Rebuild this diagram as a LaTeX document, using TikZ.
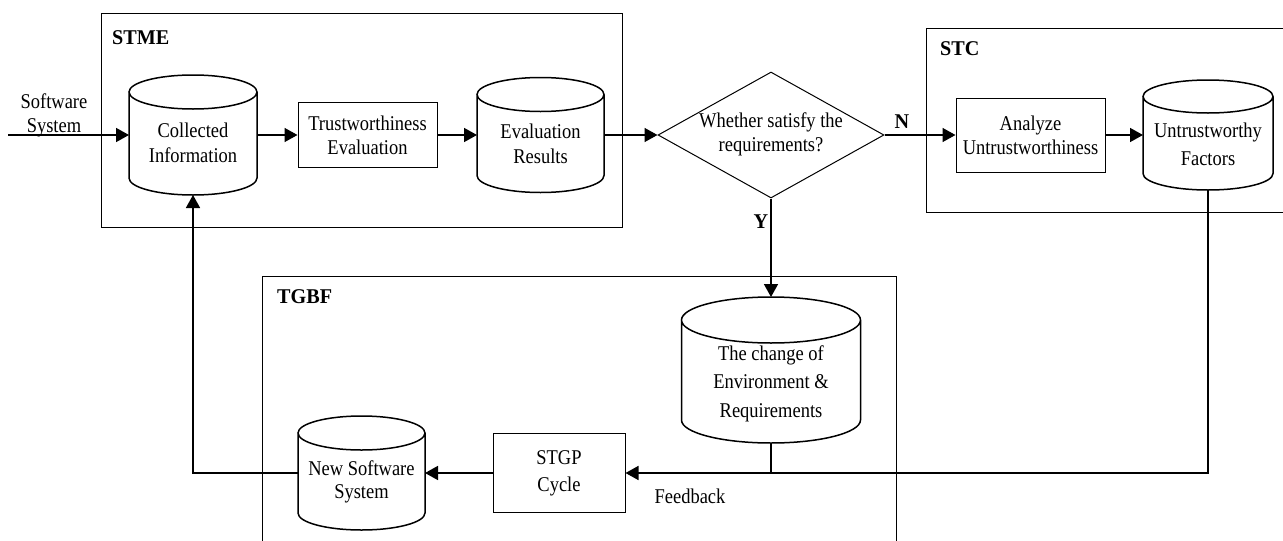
\documentclass[tikz,border=0pt]{standalone}
\usepackage{fontspec}
\setmainfont{Liberation Serif}[FakeStretch=0.88]
\newfontfamily\lblfont{Liberation Serif}[FakeStretch=0.96]
\usetikzlibrary{arrows.meta,shapes.geometric,calc}
\newcommand{\drawcyl}[2]{%
  \draw[cylline] let \p1=(#1.north west), \p2=(#1.south east), \n1={(\x2-\x1)/2} in
    (\x1+\n1,\y1-#2pt) ellipse [x radius=\n1, y radius=#2pt]
    (\x1,\y1-#2pt) -- (\x1,\y2+#2pt) arc [start angle=180, end angle=360, x radius=\n1, y radius=#2pt]
    -- (\x2,\y1-#2pt);}
\begin{document}
\begin{tikzpicture}[x=1pt,y=-1pt,
  conn/.style={line width=1.6pt, -{Triangle[length=13pt,width=14pt]}},
  plain/.style={line width=1.6pt},
  frame/.style={draw, line width=1pt},
  box/.style={draw, line width=1pt, inner sep=0, align=center, font=\fontsize{21}{24}\selectfont},
  cylbox/.style={inner sep=0, outer sep=0},
  cylline/.style={line width=1.5pt},
  txt/.style={align=center, inner sep=0, font=\fontsize{21}{25}\selectfont},
  lbl/.style={inner sep=0, font=\lblfont\bfseries\fontsize{21}{25}\selectfont, anchor=west}]
\useasboundingbox (0,0) rectangle (1283,541);
\clip (0,0) rectangle (1283,541);
\fill[white] (0,0) rectangle (1283,541);

% frames
\draw[frame] (101,13) rectangle (622,227);
\draw[frame] (926,28) rectangle (1295,212);
\draw[frame] (262,276) rectangle (896,555);
\node[lbl] (stmel) at (112,38) {STME};
\node[lbl] (stcl) at (940,49) {STC};
\node[lbl] (tgbfl) at (277,297) {TGBF};

% input text
\node[txt, font=\fontsize{21}{24}\selectfont] (sst) at (54,115) {Software\\System};
\coordinate (in) at (8,135);

% cylinders
\node[cylbox, minimum width=128, minimum height=120] (ci) at (193,135) {};
\drawcyl{ci}{17}
\node[txt] (cit) at (193,143) {Collected\\Information};

\node[box, minimum width=139, minimum height=65] (te) at (367.5,135) {Trustworthiness\\Evaluation};

\node[cylbox, minimum width=127, minimum height=115] (er) at (540.5,135) {};
\drawcyl{er}{17}
\node[txt] (ert) at (540.5,143.5) {Evaluation\\Results};

\node[diamond, draw, line width=1pt, minimum width=226, minimum height=126, aspect=1.79, inner sep=0] (dm) at (771,135) {};
\node[txt, font=\fontsize{21}{24}\selectfont] (dmt) at (771,134) {Whether satisfy the\\requirements?};

\node[box, minimum width=149, minimum height=74] (an) at (1030.5,135) {Analyze\\Untrustworthiness};

\node[cylbox, minimum width=130, minimum height=110] (uf) at (1208,135) {};
\drawcyl{uf}{16.5}
\node[txt, font=\fontsize{21}{28}\selectfont] (uft) at (1208,144) {Untrustworthy\\Factors};

\node[lbl, anchor=center] (nl) at (902,122) {N};
\node[lbl, anchor=center] (yl) at (761,222) {Y};

\node[cylbox, minimum width=179, minimum height=146] (ch) at (771,370) {};
\drawcyl{ch}{23}
\node[txt, font=\fontsize{21}{28.5}\selectfont] (cht) at (771,383.5) {The change of\\Environment \&\\Requirements};

\node[box, minimum width=132, minimum height=79, font=\fontsize{21}{27}\selectfont] (stgp) at (559,473) {STGP\\Cycle};

\node[cylbox, minimum width=127, minimum height=114] (ns) at (361.5,473) {};
\drawcyl{ns}{17}
\node[txt, font=\fontsize{21}{23}\selectfont] (nst) at (361.5,481.5) {New Software\\System};

\node[txt] (fb) at (690,496) {Feedback};

% connectors
\draw[conn] (in) -- (ci.west);
\draw[conn] (ci.east) -- (te.west);
\draw[conn] (te.east) -- (er.west);
\draw[conn] (er.east) -- (dm.west);
\draw[conn] (dm.east) -- (an.west);
\draw[conn] (an.east) -- (uf.west);
\draw[conn] (dm.south) -- (ch.north);
\draw[conn] (uf.south) |- (stgp.east);
\draw[plain] (ch.south) -- (ch.south |- stgp.east);
\draw[conn] (stgp.west) -- (ns.east);
\draw[conn] (ns.west) -| (ci.south);
\end{tikzpicture}
\end{document}
